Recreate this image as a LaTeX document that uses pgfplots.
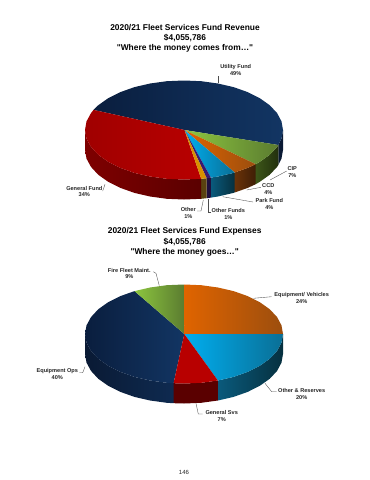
\documentclass[border=0pt]{standalone}
\usepackage{pgfplots}
\pgfplotsset{compat=1.18}
\usepackage{fontspec}
\setmainfont{Liberation Sans}[Ligatures=TeXOff]
\definecolor{txt}{HTML}{262626}
\definecolor{navyL}{HTML}{0A1E3E}\definecolor{navyR}{HTML}{123563}
\definecolor{navySL}{HTML}{0E2A50}\definecolor{navySR}{HTML}{0A1A34}
\definecolor{redT}{HTML}{B80000}\definecolor{redL}{HTML}{A00000}
\definecolor{redSL}{HTML}{7E0000}\definecolor{redSR}{HTML}{5A0000}
\definecolor{grnL}{HTML}{8DC63F}\definecolor{grnM}{HTML}{7FB83A}\definecolor{grnR}{HTML}{5B7C30}
\definecolor{grnSL}{HTML}{3C5518}\definecolor{grnSR}{HTML}{22300E}
\definecolor{orgL}{HTML}{E06400}\definecolor{orgM}{HTML}{DA6200}\definecolor{orgR}{HTML}{9C4E0E}
\definecolor{orgSL}{HTML}{6A3208}\definecolor{orgSR}{HTML}{3E1E06}
\definecolor{bluL}{HTML}{00AEEF}\definecolor{bluM}{HTML}{00A4E2}\definecolor{bluR}{HTML}{0A6F96}
\definecolor{bluSL}{HTML}{0A5A7C}\definecolor{bluSR}{HTML}{06303F}
\definecolor{gold}{HTML}{D89000}\definecolor{goldS}{HTML}{5A4210}
\definecolor{purp}{HTML}{3A1A70}\definecolor{purpS}{HTML}{20103E}
\newcommand{\ttl}[3]{\node[font=\fontsize{8.4}{10}\selectfont\bfseries,text=black,anchor=center] at (axis cs:#1,#2) {#3};}
\newcommand{\lab}[3]{\node[font=\fontsize{5.6}{7}\selectfont\bfseries,text=txt,anchor=center,inner sep=0pt] at (axis cs:#1,#2) {#3};}
\begin{document}
\begin{tikzpicture}
\begin{axis}[
  hide axis, scale only axis, width=370pt, height=480pt,
  xmin=0, xmax=370, ymin=0, ymax=480, y dir=reverse,
  clip=false, enlargelimits=false,
  leader/.style={draw=black!70, line width=0.35pt, no markers, forget plot},
  wedge/.style={draw=none, no markers, forget plot},
]
\addplot[wedge, fill=white] coordinates {(0,0)(370,0)(370,480)(0,480)};

% ---------- Top pie: sides
\addplot[wedge, fill=navySR] coordinates {(283,130)(281.5,138.6)(278.3,145)(278.3,165)(281.5,158.6)(283,150)};
\addplot[wedge, left color=grnSL, right color=grnSR] coordinates {(278.3,145)(277.1,146.9)(269.7,154.8)(259.8,161.8)(255.7,164.2)(255.7,184.2)(259.8,181.8)(269.7,174.8)(277.1,166.9)(278.3,165)};
\addplot[wedge, left color=orgSL, right color=orgSR] coordinates {(255.7,164.2)(247.7,167.9)(234.7,172.5)(234.7,192.5)(247.7,187.9)(255.7,184.2)};
\addplot[wedge, left color=bluSL, right color=bluSR] coordinates {(234.7,172.5)(233.5,172.9)(217.9,176.5)(210.9,177.6)(210.9,197.6)(217.9,196.5)(233.5,192.9)(234.7,192.5)};
\addplot[wedge, fill=purpS] coordinates {(210.9,177.6)(206.6,178.2)(206.6,198.2)(210.9,197.6)};
\addplot[wedge, fill=goldS] coordinates {(206.6,178.2)(201.2,178.8)(201.2,198.8)(206.6,198.2)};
\addplot[wedge, left color=redSL, right color=redSR] coordinates {(201.2,178.8)(184,179.5)(166.8,178.8)(150.1,176.5)(134.5,172.9)(120.4,167.9)(108.2,161.8)(98.3,154.8)(91,146.9)(86.5,138.6)(85,130)(85,150)(86.5,158.6)(91,166.9)(98.3,174.8)(108.2,181.8)(120.4,187.9)(134.5,192.9)(150.1,196.5)(166.8,198.8)(184,199.5)(201.2,198.8)};

% ---------- Top pie: top surface
\addplot[wedge, left color=navyL, right color=navyR] coordinates {(184.5,130)(93.5,109.9)(98.3,105.2)(108.2,98.2)(120.4,92.1)(134.5,87.1)(150.1,83.5)(166.8,81.2)(184,80.5)(201.2,81.2)(217.9,83.5)(233.5,87.1)(247.7,92.1)(259.8,98.2)(269.7,105.2)(277.1,113.1)(281.5,121.4)(283,130)(281.5,138.6)(278.3,145)};
\addplot[wedge, left color=redL, right color=redT] coordinates {(184.5,130)(201.2,178.8)(184,179.5)(166.8,178.8)(150.1,176.5)(134.5,172.9)(120.4,167.9)(108.2,161.8)(98.3,154.8)(91,146.9)(86.5,138.6)(85,130)(86.5,121.4)(91,113.1)(93.5,109.9)};
\addplot[wedge, left color=grnL, middle color=grnM, right color=grnR] coordinates {(184.5,130)(278.3,145)(277.1,146.9)(269.7,154.8)(259.8,161.8)(255.7,164.2)};
\addplot[wedge, left color=orgL, middle color=orgM, right color=orgR] coordinates {(184.5,130)(255.7,164.2)(247.7,167.9)(234.7,172.5)};
\addplot[wedge, left color=bluL, middle color=bluM, right color=bluR] coordinates {(184.5,130)(234.7,172.5)(233.5,172.9)(217.9,176.5)(210.9,177.6)};
\addplot[wedge, fill=purp] coordinates {(184.5,130)(210.9,177.6)(206.6,178.2)};
\addplot[wedge, fill=gold] coordinates {(184.5,130)(206.6,178.2)(201.2,178.8)};

% ---------- Bottom pie: sides
\addplot[wedge, left color=bluSL, right color=bluSR] coordinates {(283,334)(281.5,342.6)(277.1,350.9)(269.7,358.8)(259.8,365.8)(247.7,371.9)(233.5,376.9)(217.9,380.5)(217.9,400.5)(233.5,396.9)(247.7,391.9)(259.8,385.8)(269.7,378.8)(277.1,370.9)(281.5,362.6)(283,354)};
\addplot[wedge, left color=redSR, right color=redSR] coordinates {(217.9,380.5)(201.2,382.8)(184,383.5)(173.6,383.2)(173.6,403.2)(184,403.5)(201.2,402.8)(217.9,400.5)};
\addplot[wedge, left color=navySR, right color=navySL] coordinates {(173.6,383.2)(166.8,382.8)(150.1,380.5)(134.5,376.9)(120.4,371.9)(108.2,365.8)(98.3,358.8)(91,350.9)(86.5,342.6)(85,334)(85,354)(86.5,362.6)(91,370.9)(98.3,378.8)(108.2,385.8)(120.4,391.9)(134.5,396.9)(150.1,400.5)(166.8,402.8)(173.6,403.2)};

% ---------- Bottom pie: top surface
\addplot[wedge, left color=navyL, right color=navyR] coordinates {(184.3,334)(173.6,383.2)(166.8,382.8)(150.1,380.5)(134.5,376.9)(120.4,371.9)(108.2,365.8)(98.3,358.8)(91,350.9)(86.5,342.6)(85,334)(86.5,325.4)(91,317.1)(98.3,309.2)(108.2,302.2)(120.4,296.1)(134.5,291.1)};
\addplot[wedge, left color=grnL, right color=grnR] coordinates {(184.3,334)(134.5,291.1)(150.1,287.5)(166.8,285.2)(184,284.5)};
\addplot[wedge, left color=orgL, middle color=orgM, right color=orgR] coordinates {(184.3,334)(184,284.5)(201.2,285.2)(217.9,287.5)(233.5,291.1)(247.7,296.1)(259.8,302.2)(269.7,309.2)(277.1,317.1)(281.5,325.4)(283,334)};
\addplot[wedge, left color=bluL, middle color=bluM, right color=bluR] coordinates {(184.3,334)(283,334)(281.5,342.6)(277.1,350.9)(269.7,358.8)(259.8,365.8)(247.7,371.9)(233.5,376.9)(217.9,380.5)};
\addplot[wedge, fill=redT] coordinates {(184.3,334)(217.9,380.5)(201.2,382.8)(184,383.5)(173.6,383.2)};

% ---------- Leaders
\addplot[leader] coordinates {(218.3,83.3)(218.3,76)};
\addplot[leader] coordinates {(105,184.3)(102.7,191)};
\addplot[leader] coordinates {(203.3,200)(201,211)(197,211)};
\addplot[leader] coordinates {(208.3,199.3)(208.3,211.7)(210.7,211.7)};
\addplot[leader] coordinates {(222.7,196.7)(253,202)};
\addplot[leader] coordinates {(246.7,190)(261,187.3)};
\addplot[leader] coordinates {(270,180)(286.7,171)};
\addplot[leader] coordinates {(153.3,271.7)(156,273.3)(159.3,285.7)};
\addplot[leader] coordinates {(271.7,296.7)(253.3,298.3)};
\addplot[leader] coordinates {(276.7,391.7)(271.7,391.7)(265,383.3)};
\addplot[leader] coordinates {(202.7,414)(198.3,414)(196,403.3)};
\addplot[leader] coordinates {(79.3,372.7)(82.7,372.7)(85,366.7)};

% ---------- Text
\ttl{185}{27.7}{2020/21 Fleet Services Fund Revenue}
\ttl{185}{37.7}{\$4,055,786}
\ttl{185}{48}{"Where the money comes from…"}
\lab{235.7}{66.7}{Utility Fund}\lab{235.7}{73.3}{49\%}
\lab{84.3}{188.3}{General Fund}\lab{84.3}{195}{34\%}
\lab{188.3}{209.3}{Other}\lab{188.3}{216.7}{1\%}
\lab{228.3}{210}{Other Funds}\lab{228.3}{217.3}{1\%}
\lab{269.3}{200.3}{Park Fund}\lab{269.3}{207.3}{4\%}
\lab{268.3}{185.7}{CCD}\lab{268.3}{192.3}{4\%}
\lab{292.3}{168.7}{CIP}\lab{292.3}{175.7}{7\%}
\ttl{184.7}{231.7}{2020/21 Fleet Services Fund Expenses}
\ttl{184.7}{242}{\$4,055,786}
\ttl{184.7}{252.7}{"Where the money goes…"}
\lab{129.3}{270}{Fire Fleet Maint.}\lab{129.3}{277}{9\%}
\lab{301.7}{295}{Equipment/ Vehicles}\lab{301.7}{302}{24\%}
\lab{301.7}{390.7}{Other \& Reserves}\lab{301.7}{397.7}{20\%}
\lab{221.7}{412.7}{General Svs}\lab{221.7}{419.7}{7\%}
\lab{57.3}{370.7}{Equipment Ops}\lab{57.3}{377.7}{40\%}
\node[font=\fontsize{6}{7}\selectfont,text=txt] at (axis cs:184,472) {146};
\end{axis}
\end{tikzpicture}
\end{document}
